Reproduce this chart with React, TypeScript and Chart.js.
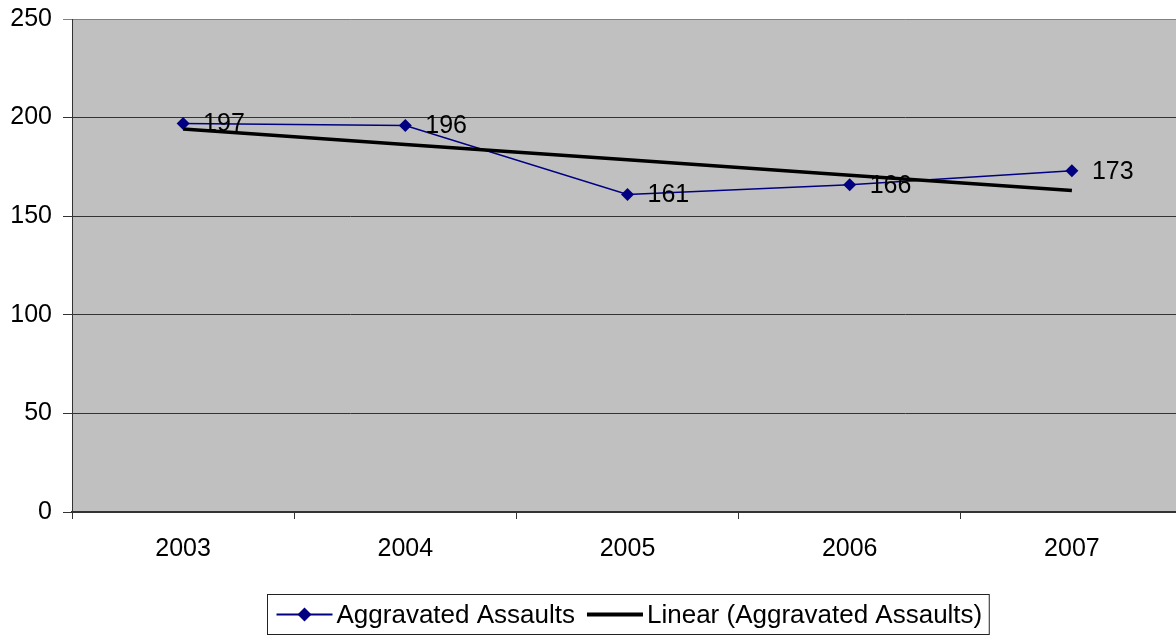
import React, { useEffect, useRef } from "react";
import { Chart, registerables } from "chart.js";

Chart.register(...registerables);

const categories = ["2003", "2004", "2005", "2006", "2007"];
const assaults = [197, 196, 161, 166, 173];
const seriesName = "Aggravated Assaults";
const trendName = "Linear (Aggravated Assaults)";
const yTicks = [0, 50, 100, 150, 200, 250];

// Linear least-squares trend of the series (what the "Linear" trendline shows)
function linearTrend(values: number[]): number[] {
  const n = values.length;
  const mx = (n - 1) / 2;
  const my = values.reduce((a, b) => a + b, 0) / n;
  let num = 0;
  let den = 0;
  values.forEach((v, i) => {
    num += (i - mx) * (v - my);
    den += (i - mx) * (i - mx);
  });
  const slope = num / den;
  return values.map((_, i) => my + slope * (i - mx));
}

const FONT = "'Liberation Sans', Arial, sans-serif";

const bgPlugin = {
  id: "plotBg",
  beforeDraw(chart: any) {
    const { ctx, chartArea } = chart;
    ctx.save();
    ctx.fillStyle = "#C0C0C0";
    ctx.fillRect(chartArea.left, chartArea.top, chartArea.right - chartArea.left, chartArea.bottom - chartArea.top);
    ctx.restore();
  },
};

const labelPlugin = {
  id: "valueLabels",
  afterDatasetsDraw(chart: any) {
    const { ctx } = chart;
    const meta = chart.getDatasetMeta(1);
    const data = chart.data.datasets[1].data;
    ctx.save();
    ctx.font = `25px ${FONT}`;
    ctx.fillStyle = "#000";
    ctx.textAlign = "left";
    ctx.textBaseline = "middle";
    meta.data.forEach((pt: any, i: number) => {
      ctx.fillText(String(data[i]), pt.x + 20, pt.y + 1);
    });
    ctx.restore();
  },
};

const legendPlugin = {
  id: "boxLegend",
  afterDraw(chart: any) {
    const { ctx, chartArea } = chart;
    ctx.save();
    ctx.font = `26px ${FONT}`;
    const t1 = chart.data.datasets[1].label;
    const t2 = chart.data.datasets[0].label;
    const w1 = ctx.measureText(t1).width;
    const w2 = ctx.measureText(t2).width;
    const lineW = 56;
    const padL = 9;
    const padR = 7;
    const gapT = 4;
    const gapI = 12;
    const total = padL + lineW + gapT + w1 + gapI + lineW + gapT + w2 + padR;
    const cx = (chartArea.left + chartArea.right) / 2;
    const left = Math.round(cx - total / 2) + 0.5;
    const top = 594.5;
    const h = 40;
    ctx.strokeStyle = "#222";
    ctx.lineWidth = 1;
    ctx.strokeRect(left, top, total, h);
    const my = top + h / 2;
    let x = left + padL;
    ctx.strokeStyle = "#000080";
    ctx.lineWidth = 2;
    ctx.beginPath();
    ctx.moveTo(x, my);
    ctx.lineTo(x + lineW, my);
    ctx.stroke();
    ctx.fillStyle = "#000080";
    const dx = x + lineW / 2;
    ctx.beginPath();
    ctx.moveTo(dx, my - 7);
    ctx.lineTo(dx + 7, my);
    ctx.lineTo(dx, my + 7);
    ctx.lineTo(dx - 7, my);
    ctx.closePath();
    ctx.fill();
    x += lineW + gapT;
    ctx.fillStyle = "#000";
    ctx.textAlign = "left";
    ctx.textBaseline = "middle";
    ctx.fillText(t1, x, my + 1);
    x += w1 + gapI;
    ctx.strokeStyle = "#000";
    ctx.lineWidth = 4;
    ctx.beginPath();
    ctx.moveTo(x, my);
    ctx.lineTo(x + lineW, my);
    ctx.stroke();
    x += lineW + gapT;
    ctx.fillText(t2, x, my + 1);
    ctx.restore();
  },
};

export default function App() {
  const ref = useRef<HTMLCanvasElement | null>(null);

  useEffect(() => {
    if (!ref.current) return;
    const trend = linearTrend(assaults);
    const chart = new Chart(ref.current, {
      type: "line",
      data: {
        labels: categories,
        datasets: [
          {
            label: trendName,
            data: trend,
            borderColor: "#000",
            borderWidth: 3.5,
            pointRadius: 0,
            fill: false,
            tension: 0,
          },
          {
            label: seriesName,
            data: assaults,
            borderColor: "#000080",
            backgroundColor: "#000080",
            borderWidth: 1.5,
            pointStyle: "rectRot",
            pointRadius: 6.5,
            pointBorderWidth: 0,
            pointBackgroundColor: "#000080",
            fill: false,
            tension: 0,
          },
        ],
      },
      options: {
        animation: false,
        responsive: false,
        devicePixelRatio: 1,
        layout: { padding: { top: 19, right: 7, left: 0, bottom: 0 } },
        plugins: {
          legend: { display: false },
          tooltip: { enabled: false },
        },
        scales: {
          x: {
            type: "category",
            offset: true,
            grid: {
              offset: true,
              drawOnChartArea: false,
              drawTicks: true,
              tickLength: 7,
              color: "#333",
            },
            border: { display: true, color: "#333", width: 2 },
            ticks: {
              color: "#000",
              font: { family: FONT, size: 25 },
              padding: 15,
              maxRotation: 0,
            },
            afterFit(scale: any) {
              scale.height = 126;
              scale.paddingLeft = 0;
              scale.paddingRight = 0;
            },
          },
          y: {
            min: 0,
            max: 250,
            afterBuildTicks(scale: any) {
              scale.ticks = yTicks.map((v) => ({ value: v }));
            },
            grid: {
              color: (c: any) => (c.tick && c.tick.value === 250 ? "#808080" : "#333"),
              tickLength: 9,
              drawTicks: true,
            },
            border: { display: true, color: "#333", width: 1 },
            ticks: {
              color: "#000",
              font: { family: FONT, size: 25 },
              padding: 11,
            },
            afterFit(scale: any) {
              scale.width = 72;
              scale.paddingTop = 0;
              scale.paddingBottom = 0;
            },
          },
        },
      },
      plugins: [bgPlugin, labelPlugin, legendPlugin],
    });
    return () => chart.destroy();
  }, []);

  return (
    <div style={{ position: "fixed", left: 0, top: 0, width: 1176, height: 638, overflow: "hidden", background: "#fff" }}>
      <canvas ref={ref} width={1190} height={638} style={{ display: "block" }} />
    </div>
  );
}
